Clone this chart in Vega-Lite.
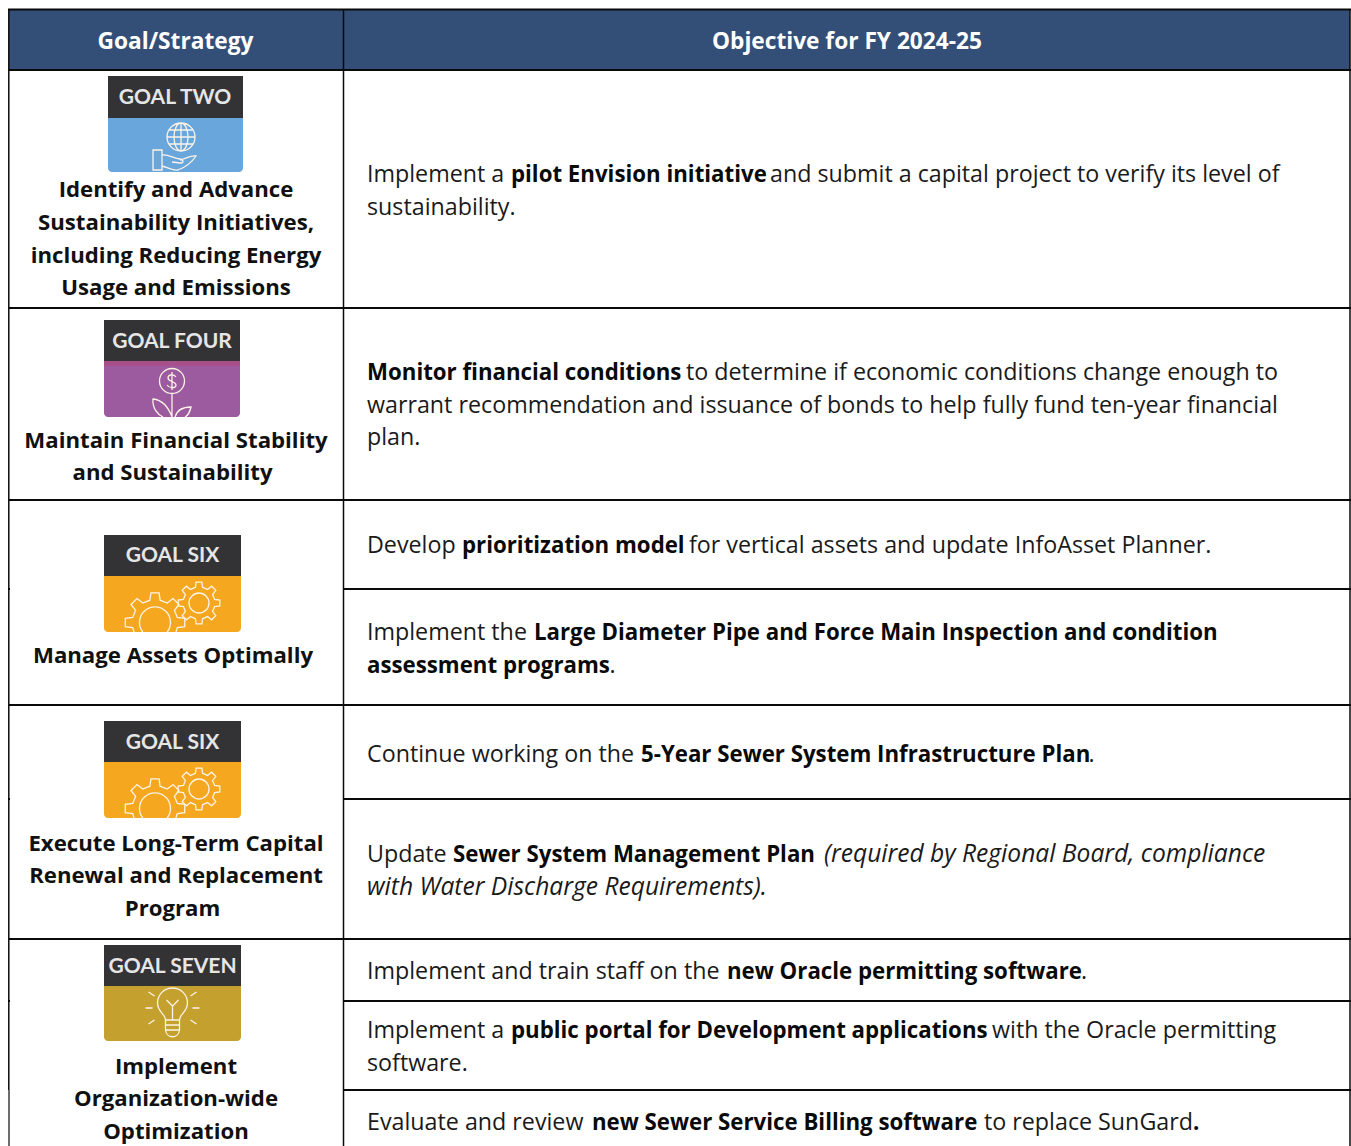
{"$schema":"https://vega.github.io/schema/vega-lite/v6.json","width":1351,"height":1146,"padding":0,"autosize":"none","background":"white","config":{"view":{"stroke":null}},
"datasets":{
"bands":[
{"band":"header","x0":9,"x1":1350,"y0":10,"y1":70},
{"band":"dark","x0":108,"x1":243,"y0":76,"y1":118},{"band":"blue","x0":108,"x1":243,"y0":118,"y1":172},
{"band":"purple","x0":104,"x1":240,"y0":361,"y1":417},{"band":"pink","x0":104,"x1":240,"y0":361,"y1":366},{"band":"dark","x0":104,"x1":240,"y0":320,"y1":361},
{"band":"orange","x0":104,"x1":241,"y0":576,"y1":632},{"band":"dark","x0":104,"x1":241,"y0":535,"y1":576},
{"band":"orange","x0":104,"x1":241,"y0":762,"y1":818},{"band":"dark","x0":104,"x1":241,"y0":721,"y1":762},
{"band":"gold","x0":104,"x1":241,"y0":986,"y1":1041},{"band":"dark","x0":104,"x1":241,"y0":945,"y1":986}],
"rules":[
{"kind":"row","x0":8,"x1":1351,"y0":9.5,"y1":9.5},{"kind":"row","x0":9,"x1":1351,"y0":70,"y1":70},{"kind":"row","x0":9,"x1":1351,"y0":308,"y1":308},{"kind":"row","x0":9,"x1":1351,"y0":500,"y1":500},{"kind":"row","x0":9,"x1":1351,"y0":705,"y1":705},{"kind":"row","x0":9,"x1":1351,"y0":939,"y1":939},
{"kind":"row","x0":344,"x1":1351,"y0":589,"y1":589},{"kind":"row","x0":344,"x1":1351,"y0":799,"y1":799},{"kind":"row","x0":344,"x1":1351,"y0":1001,"y1":1001},{"kind":"row","x0":344,"x1":1351,"y0":1090,"y1":1090},
{"kind":"row","x0":8,"x1":10,"y0":589,"y1":589},{"kind":"row","x0":8,"x1":10,"y0":799,"y1":799},{"kind":"row","x0":8,"x1":10,"y0":1001,"y1":1001},
{"kind":"col","x0":8.8,"x1":8.8,"y0":9,"y1":1090},{"kind":"col","x0":343.5,"x1":343.5,"y0":9,"y1":1146},{"kind":"col","x0":1350,"x1":1350,"y0":9,"y1":1146},
{"kind":"edge","x0":9,"x1":9,"y0":1090,"y1":1146}],
"icons":[
{"icon":"globe","x":181,"y":137},{"icon":"flower","x":172,"y":381},{"icon":"gearSmall","x":199,"y":603},{"icon":"gearBig","x":155,"y":622.5},{"icon":"gearSmall","x":199,"y":789},{"icon":"gearBig","x":155,"y":808.5},{"icon":"bulb","x":172.5,"y":1006}],
"labels":[
{"kind":"header","x":175.5,"y":49,"text":"Goal/Strategy"},{"kind":"header","x":847,"y":49,"text":"Objective for FY 2024-25"},
{"kind":"badge","x":175,"y":104,"text":"GOAL TWO"},{"kind":"badge","x":172,"y":348,"text":"GOAL FOUR"},{"kind":"badge","x":172.5,"y":562,"text":"GOAL SIX"},{"kind":"badge","x":172.5,"y":749,"text":"GOAL SIX"},{"kind":"badge","x":172.5,"y":973,"text":"GOAL SEVEN"},
{"kind":"goal","x":176,"y":197,"text":"Identify and Advance"},{"kind":"goal","x":176,"y":230,"text":"Sustainability Initiatives,"},{"kind":"goal","x":176,"y":263,"text":"including Reducing Energy"},{"kind":"goal","x":176,"y":295,"text":"Usage and Emissions"},
{"kind":"goal","x":176,"y":448,"text":"Maintain Financial Stability"},{"kind":"goal","x":172.5,"y":480,"text":"and Sustainability"},
{"kind":"goal","x":173,"y":663,"text":"Manage Assets Optimally"},
{"kind":"goal","x":176,"y":851,"text":"Execute Long-Term Capital"},{"kind":"goal","x":176,"y":883,"text":"Renewal and Replacement"},{"kind":"goal","x":172.5,"y":916,"text":"Program"},
{"kind":"goal","x":176,"y":1074,"text":"Implement"},{"kind":"goal","x":176,"y":1106,"text":"Organization-wide"},{"kind":"goal","x":176,"y":1139,"text":"Optimization"},
{"kind":"regular","x":367,"y":182,"text":"Implement a"},{"kind":"bold","x":511,"y":182,"text":"pilot Envision initiative"},{"kind":"regular","x":770,"y":182,"text":"and submit a capital project to verify its level of"},{"kind":"regular","x":367,"y":215,"text":"sustainability."},
{"kind":"bold","x":367,"y":380,"text":"Monitor financial conditions"},{"kind":"regular","x":686,"y":380,"text":"to determine if economic conditions change enough to"},{"kind":"regular","x":367,"y":413,"text":"warrant recommendation and issuance of bonds to help fully fund ten-year financial"},{"kind":"regular","x":367,"y":445,"text":"plan."},
{"kind":"regular","x":367,"y":553,"text":"Develop"},{"kind":"bold","x":462,"y":553,"text":"prioritization model"},{"kind":"regular","x":689,"y":553,"text":"for vertical assets and update InfoAsset Planner."},
{"kind":"regular","x":367,"y":640,"text":"Implement the"},{"kind":"bold","x":534,"y":640,"text":"Large Diameter Pipe and Force Main Inspection and condition"},{"kind":"bold","x":367,"y":673,"text":"assessment programs"},{"kind":"regular","x":609.5,"y":673,"text":"."},
{"kind":"regular","x":367,"y":762,"text":"Continue working on the"},{"kind":"bold","x":641,"y":762,"text":"5-Year Sewer System Infrastructure Plan"},{"kind":"regular","x":1088.5,"y":762,"text":"."},
{"kind":"regular","x":367,"y":862,"text":"Update"},{"kind":"bold","x":453,"y":862,"text":"Sewer System Management Plan"},{"kind":"italic","x":824,"y":862,"text":"(required by Regional Board, compliance"},{"kind":"italic","x":367,"y":895,"text":"with Water Discharge Requirements)."},
{"kind":"regular","x":367,"y":979,"text":"Implement and train staff on the"},{"kind":"bold","x":727,"y":979,"text":"new Oracle permitting software"},{"kind":"regular","x":1081,"y":979,"text":"."},
{"kind":"regular","x":367,"y":1038,"text":"Implement a"},{"kind":"bold","x":511,"y":1038,"text":"public portal for Development applications"},{"kind":"regular","x":992,"y":1038,"text":"with the Oracle permitting"},{"kind":"regular","x":367,"y":1071,"text":"software."},
{"kind":"regular","x":367,"y":1130,"text":"Evaluate and review"},{"kind":"bold","x":592,"y":1130,"text":"new Sewer Service Billing software"},{"kind":"regular","x":984,"y":1130,"text":"to replace SunGard"},{"kind":"bold","x":1193,"y":1130,"text":"."}]
},
"layer":[
{"data":{"name":"bands"},"transform":[{"filter":"datum.band!=='header'&&datum.band!=='dark'&&datum.band!=='pink'"}],"mark":{"type":"rect","cornerRadiusBottomLeft":4,"cornerRadiusBottomRight":4},"encoding":{
"x":{"field":"x0","type":"quantitative","scale":{"domain":[0,1351]},"axis":null},"x2":{"field":"x1"},
"y":{"field":"y0","type":"quantitative","scale":{"domain":[1146,0]},"axis":null},"y2":{"field":"y1"},
"color":{"field":"band","type":"nominal","legend":null,"scale":{"domain":["header","dark","blue","purple","pink","orange","gold"],"range":["#334f78","#333336","#69a6dc","#9c5a9f","#a8508c","#f5a81f","#c4a02e"]}}}},
{"data":{"name":"bands"},"transform":[{"filter":"datum.band==='header'||datum.band==='dark'||datum.band==='pink'"}],"mark":{"type":"rect"},"encoding":{
"x":{"field":"x0","type":"quantitative","scale":{"domain":[0,1351]},"axis":null},"x2":{"field":"x1"},
"y":{"field":"y0","type":"quantitative","scale":{"domain":[1146,0]},"axis":null},"y2":{"field":"y1"},
"color":{"field":"band","type":"nominal","legend":null,"scale":{"domain":["header","dark","blue","purple","pink","orange","gold"],"range":["#334f78","#333336","#69a6dc","#9c5a9f","#a8508c","#f5a81f","#c4a02e"]}}}},
{"data":{"name":"rules"},"mark":{"type":"rule","color":"#0a0a0a"},"encoding":{
"x":{"field":"x0","type":"quantitative","scale":{"domain":[0,1351]},"axis":null},"x2":{"field":"x1"},
"y":{"field":"y0","type":"quantitative","scale":{"domain":[1146,0]},"axis":null},"y2":{"field":"y1"},
"strokeWidth":{"field":"kind","type":"ordinal","legend":null,"scale":{"domain":["row","col","edge"],"range":[1.8,1.2,2]}}}},
{"data":{"name":"icons"},"mark":{"type":"point","filled":false,"size":4,"stroke":"#fdf3e6","strokeWidth":1.3,"opacity":1},"encoding":{
"x":{"field":"x","type":"quantitative","scale":{"domain":[0,1351]},"axis":null},
"y":{"field":"y","type":"quantitative","scale":{"domain":[1146,0]},"axis":null},
"shape":{"field":"icon","type":"nominal","legend":null,"scale":{"domain":["globe","flower","gearSmall","gearBig","bulb"],"range":[
"M-14,0A14,14 0 1 1 14,0A14,14 0 1 1 -14,0ZM0,-14A7,14 0 1 1 0,14A7,14 0 1 1 0,-14ZM0,-14L0,14M-14,0L14,0M-12,-7L12,-7M-12,7L12,7M-28,13L-19,13L-19,33L-28,33ZM-19,18C-13,17 -8,21 -1,22C3,23 3,26 -1,26L-9,25M-1,23C4,22 10,18 15,19C11,25 5,30 -3,33C-8,34 -14,30 -19,29",
"M-12.5,0A12.5,12.5 0 1 1 12.5,0A12.5,12.5 0 1 1 -12.5,0ZM4,-4C2,-7 -4,-7 -4,-3C-4,1 4,0 4,4C4,8 -3,7 -5,4M0,-9L0,9M0,12.5L0,36M0,36C-4,25 -10,19 -19,18C-20,27 -14,34 -9,36M3,36C5,29 10,26 19,26C18,31 15,35 13,36",
"M15.6,3.6L20.8,2.9L20.8,-2.9L15.6,-3.6L13.6,-8.5L16.8,-12.6L12.6,-16.8L8.5,-13.6L3.6,-15.6L2.9,-20.8L-2.9,-20.8L-3.6,-15.6L-8.5,-13.6L-12.6,-16.8L-16.8,-12.6L-13.6,-8.5L-15.6,-3.6L-20.8,-2.9L-20.8,2.9L-15.6,3.6L-13.6,8.5L-16.8,12.6L-12.6,16.8L-8.5,13.6L-3.6,15.6L-2.9,20.8L2.9,20.8L3.6,15.6L8.5,13.6L12.6,16.8L16.8,12.6L13.6,8.5ZM-10,0A10,10 0 1 1 10,0A10,10 0 1 1 -10,0Z",
"M-21,9.5L-22.3,5.1L-29.7,4.1L-29.7,-4.1L-22.3,-5.1L-19.4,-12.2L-24,-18L-18,-24L-12.2,-19.4L-5.1,-22.3L-4.1,-29.7L4.1,-29.7L5.1,-22.3L12.2,-19.4L18,-24L24,-18L19.4,-12.2L22.3,-5.1L29.7,-4.1L29.7,4.1L22.3,5.1L21,9.5M-12.2,9.5A15.5,15.5 0 1 1 12.2,9.5",
"M-7,14C-7,8 -15,6 -15,-3A15,15 0 1 1 15,-3C15,6 7,8 7,14ZM-7,19L7,19M-7,24L7,24M-7,14L-7,24C-6,33 6,33 7,24L7,14M0,14L0,0M-6,-6L0,0L6,-6M-24,-14L-18,-10M24,-14L18,-10M-27,2L-20,2M27,2L20,2M-24,18L-18,14M24,18L18,14"
]}}}},
{"data":{"name":"labels"},"transform":[{"filter":"datum.kind==='header'"}],"mark":{"type":"text","font":"Open Sans","fontSize":22.7,"fontWeight":"bold","color":"white","align":"center","baseline":"alphabetic"},"encoding":{"x":{"field":"x","type":"quantitative","scale":{"domain":[0,1351]},"axis":null},"y":{"field":"y","type":"quantitative","scale":{"domain":[1146,0]},"axis":null},"text":{"field":"text"}}},
{"data":{"name":"labels"},"transform":[{"filter":"datum.kind==='badge'"}],"mark":{"type":"text","font":"Lato","fontSize":21,"fontWeight":"bold","color":"#e6e6e6","align":"center","baseline":"alphabetic"},"encoding":{"x":{"field":"x","type":"quantitative","scale":{"domain":[0,1351]},"axis":null},"y":{"field":"y","type":"quantitative","scale":{"domain":[1146,0]},"axis":null},"text":{"field":"text"}}},
{"data":{"name":"labels"},"transform":[{"filter":"datum.kind==='goal'"}],"mark":{"type":"text","font":"Open Sans","fontSize":22.2,"fontWeight":"bold","color":"#111111","align":"center","baseline":"alphabetic"},"encoding":{"x":{"field":"x","type":"quantitative","scale":{"domain":[0,1351]},"axis":null},"y":{"field":"y","type":"quantitative","scale":{"domain":[1146,0]},"axis":null},"text":{"field":"text"}}},
{"data":{"name":"labels"},"transform":[{"filter":"datum.kind==='regular'"}],"mark":{"type":"text","font":"Open Sans","fontSize":23.25,"color":"#1a1a1a","align":"left","baseline":"alphabetic"},"encoding":{"x":{"field":"x","type":"quantitative","scale":{"domain":[0,1351]},"axis":null},"y":{"field":"y","type":"quantitative","scale":{"domain":[1146,0]},"axis":null},"text":{"field":"text"}}},
{"data":{"name":"labels"},"transform":[{"filter":"datum.kind==='bold'"}],"mark":{"type":"text","font":"Open Sans","fontSize":22.25,"fontWeight":"bold","color":"#0a0a0a","align":"left","baseline":"alphabetic"},"encoding":{"x":{"field":"x","type":"quantitative","scale":{"domain":[0,1351]},"axis":null},"y":{"field":"y","type":"quantitative","scale":{"domain":[1146,0]},"axis":null},"text":{"field":"text"}}},
{"data":{"name":"labels"},"transform":[{"filter":"datum.kind==='italic'"}],"mark":{"type":"text","font":"Open Sans","fontSize":24.6,"fontStyle":"italic","color":"#1a1a1a","align":"left","baseline":"alphabetic"},"encoding":{"x":{"field":"x","type":"quantitative","scale":{"domain":[0,1351]},"axis":null},"y":{"field":"y","type":"quantitative","scale":{"domain":[1146,0]},"axis":null},"text":{"field":"text"}}}
]}
